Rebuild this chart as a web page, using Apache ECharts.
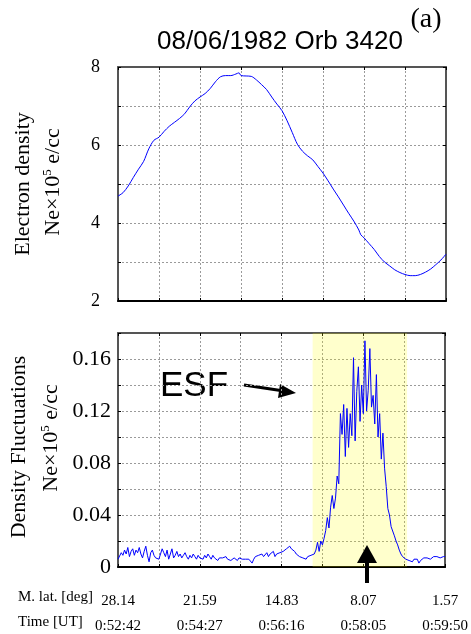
<!DOCTYPE html>
<html><head><meta charset="utf-8">
<script src="https://cdn.jsdelivr.net/npm/echarts@6/dist/echarts.min.js"></script>
<style>html,body{margin:0;padding:0;background:#fff}#c{width:471px;height:634px}</style>
</head><body><div id="c"></div>
<script>
// ---- data ----
const topX = [0,0.125,0.25,0.375,0.5,0.625,0.75,0.875,1.0,1.125,1.25,1.375,1.5,1.625,1.75,1.875,
  2.0,2.125,2.25,2.375,2.5,2.625,2.75,2.875,2.95,3.0,3.125,3.25,3.375,3.5,3.625,3.75,3.875,
  4.0,4.125,4.25,4.375,4.5,4.625,4.75,4.875,5.0,5.125,5.25,5.375,5.5,5.625,5.75,5.875,5.92,
  6.0,6.125,6.25,6.375,6.5,6.625,6.75,6.875,7.0,7.125,7.25,7.375,7.5,7.625,7.75,7.875,8.0];
const topNe = [4.69,4.78,4.95,5.17,5.38,5.58,5.90,6.12,6.20,6.35,6.48,6.58,6.68,6.80,6.98,7.13,
  7.23,7.32,7.45,7.62,7.75,7.78,7.78,7.82,7.85,7.78,7.77,7.76,7.67,7.55,7.42,7.23,7.05,
  6.88,6.62,6.32,6.02,5.84,5.72,5.62,5.45,5.28,5.08,4.87,4.67,4.46,4.25,4.05,3.82,3.70,
  3.62,3.47,3.32,3.14,3.00,2.90,2.80,2.73,2.68,2.65,2.65,2.68,2.74,2.82,2.93,3.05,3.20];
const botStep = 0.04;
const botDn = [
  0.006,0.007,0.011,0.009,0.013,0.010,0.015,0.008,0.012,0.014,
  0.009,0.013,0.011,0.015,0.010,0.007,0.012,0.016,0.009,0.004,
  0.011,0.013,0.009,0.007,0.008,0.006,0.010,0.014,0.011,0.008,
  0.013,0.006,0.010,0.014,0.007,0.009,0.012,0.008,0.010,0.007,
  0.009,0.011,0.008,0.006,0.009,0.007,0.010,0.008,0.006,0.009,
  0.007,0.008,0.006,0.009,0.007,0.010,0.008,0.006,0.009,0.007,
  0.008,0.005,0.007,0.006,0.007,0.006,0.008,0.006,0.007,0.005,
  0.006,0.007,0.006,0.005,0.007,0.006,0.006,0.005,0.006,0.007,
  0.006,0.005,0.003,0.006,0.008,0.007,0.009,0.008,0.010,0.008,
  0.009,0.011,0.008,0.010,0.009,0.012,0.008,0.010,0.009,0.011,
  0.010,0.012,0.013,0.014,0.015,0.016,0.014,0.013,0.012,0.010,
  0.009,0.008,0.009,0.007,0.008,0.006,0.008,0.007,0.009,0.008,
  0.010,0.013,0.019,0.012,0.020,0.017,0.022,0.028,0.038,0.030,
  0.046,0.055,0.045,0.053,0.070,0.064,0.118,0.102,0.125,0.085,
  0.122,0.092,0.118,0.101,0.161,0.097,0.135,0.154,0.112,0.140,
  0.118,0.174,0.120,0.136,0.168,0.123,0.132,0.110,0.148,0.100,
  0.118,0.083,0.103,0.076,0.062,0.045,0.040,0.031,0.030,0.024,
  0.020,0.017,0.013,0.010,0.008,0.009,0.006,0.007,0.005,0.006,
  0.004,0.006,0.005,0.006,0.003,0.005,0.006,0.007,0.006,0.007,
  0.008,0.006,0.007,0.008,0.007,0.008,0.009,0.007,0.008,0.008,
  0.008];
const latLabels = ['28.14','21.59','14.83','8.07','1.57'];
const timeLabels = ['0:52:42','0:54:27','0:56:16','0:58:05','0:59:50'];
const esfRange = [4.76, 7.07];

const topData = topX.map((x,i)=>[x, topNe[i]]);
const botData = botDn.map((v,i)=>[+(i*botStep).toFixed(3), v]);

const SERIF = 'Liberation Serif';
const SANS = 'Liberation Sans';
function gridLine(){ return {show:true, lineStyle:{color:'#9a9a9a', type:[2,2], width:1}}; }
const frameC = '#555';

function mkX(gi, pos, labels) {
  return {
    type:'value', gridIndex:gi, position:pos, min:0, max:8, interval:1,
    axisLine:{show:true, onZero:false, lineStyle:{color: pos==='bottom' ? '#000' : frameC, width:2}},
    axisTick:{show:true, inside:true, length:3, lineStyle:{color:'#000'}},
    splitLine: gridLine(),
    axisLabel: labels ? {
      show:true, margin:22, interval:0, showMinLabel:true, showMaxLabel:true,
      formatter:(v)=>{ const k=Math.round(v); if (k%2!==0) return ''; const j=k/2;
        return '{a|'+latLabels[j]+'}\n{b|'+timeLabels[j]+'}'; },
      rich:{a:{fontFamily:SERIF,fontSize:15,color:'#000',lineHeight:25},
            b:{fontFamily:SERIF,fontSize:15,color:'#000',lineHeight:25}}
    } : {show:false}
  };
}
function mkY(gi, pos, min, max, itv, labelFn, fs, mg) {
  return {
    type:'value', gridIndex:gi, position:pos, min:min, max:max, interval:itv,
    axisLine:{show:true, onZero:false, lineStyle:{color:frameC, width:2}},
    axisTick:{show:true, inside:true, length:3, lineStyle:{color:'#000'}},
    splitLine: gridLine(),
    axisLabel: labelFn ? {show:true, formatter:labelFn, fontFamily:SERIF, fontSize:fs, color:'#000', margin:mg} : {show:false}
  };
}

const chart = echarts.init(document.getElementById('c'), null, {renderer:'canvas'});
chart.setOption({
  animation:false,
  backgroundColor:'#fff',
  grid:[
    {left:118, top:67, width:328, height:234},
    {left:118, top:333, width:328, height:234}
  ],
  xAxis:[ mkX(0,'bottom',false), mkX(0,'top',false), mkX(1,'bottom',true), mkX(1,'top',false) ],
  yAxis:[
    mkY(0,'left',2,8,1,(v)=> (Math.round(v)%2===0 ? String(Math.round(v)) : ''),18,18),
    mkY(0,'right',2,8,1,null),
    mkY(1,'left',0,0.18,0.02,(v)=>{ const k=Math.round(v*100); if (k%4!==0) return ''; return k===0?'0':(k/100).toFixed(2); },22,7),
    mkY(1,'right',0,0.18,0.02,null)
  ],
  series:[
    {type:'line', xAxisIndex:0, yAxisIndex:0, data:topData, showSymbol:false, smooth:0.3,
     lineStyle:{color:'#0000ff', width:1}},
    {type:'line', xAxisIndex:2, yAxisIndex:2, data:botData, showSymbol:false,
     lineStyle:{color:'#0000ff', width:1},
     markArea:{silent:true, itemStyle:{color:'rgba(255,255,0,0.2)'},
       data:[[{xAxis:esfRange[0]},{xAxis:esfRange[1]}]]}}
  ],
  graphic:[
    {type:'text', x:280, y:42, style:{text:'08/06/1982 Orb 3420', font:'26px "'+SANS+'"', fill:'#000', textAlign:'center', textVerticalAlign:'middle'}},
    {type:'text', x:426, y:20, style:{text:'(a)', font:'28px "'+SERIF+'"', fill:'#000', textAlign:'center', textVerticalAlign:'middle'}},
    {type:'text', x:23, y:184, rotation:Math.PI/2, style:{text:'Electron density', font:'22px "'+SERIF+'"', fill:'#000', textAlign:'center', textVerticalAlign:'middle'}},
    {type:'text', x:53, y:182, rotation:Math.PI/2, style:{text:'{n|Ne×10}{s|5}{n| e/cc}', textAlign:'center', textVerticalAlign:'middle',
      rich:{n:{fontFamily:SERIF,fontSize:22,color:'#000'}, s:{fontFamily:SERIF,fontSize:13,color:'#000',verticalAlign:'top',padding:[0,0,10,0]}}}},
    {type:'text', x:19, y:447, rotation:Math.PI/2, style:{text:'Density Fluctuations', font:'22px "'+SERIF+'"', fill:'#000', textAlign:'center', textVerticalAlign:'middle'}},
    {type:'text', x:51, y:438, rotation:Math.PI/2, style:{text:'{n|Ne×10}{s|5}{n| e/cc}', textAlign:'center', textVerticalAlign:'middle',
      rich:{n:{fontFamily:SERIF,fontSize:22,color:'#000'}, s:{fontFamily:SERIF,fontSize:13,color:'#000',verticalAlign:'top',padding:[0,0,10,0]}}}},
    {type:'text', x:160, y:386, style:{text:'ESF', font:'35px "'+SANS+'"', fill:'#000', textAlign:'left', textVerticalAlign:'middle'}},
    {type:'line', shape:{x1:244, y1:385, x2:284, y2:391}, style:{stroke:'#000', lineWidth:3}},
    {type:'polygon', shape:{points:[[296,393],[280,384],[278,398]]}, style:{fill:'#000'}},
    {type:'polygon', shape:{points:[[367,545],[357,563],[377,563]]}, style:{fill:'#000'}, z:10},
    {type:'rect', shape:{x:365, y:562, width:4, height:21}, style:{fill:'#000'}, z:10},
    {type:'text', x:18, y:597, style:{text:'M. lat. [deg]', font:'15px "'+SERIF+'"', fill:'#000', textAlign:'left', textVerticalAlign:'middle'}},
    {type:'text', x:18, y:622, style:{text:'Time [UT]', font:'15px "'+SERIF+'"', fill:'#000', textAlign:'left', textVerticalAlign:'middle'}}
  ]
});
</script></body></html>
